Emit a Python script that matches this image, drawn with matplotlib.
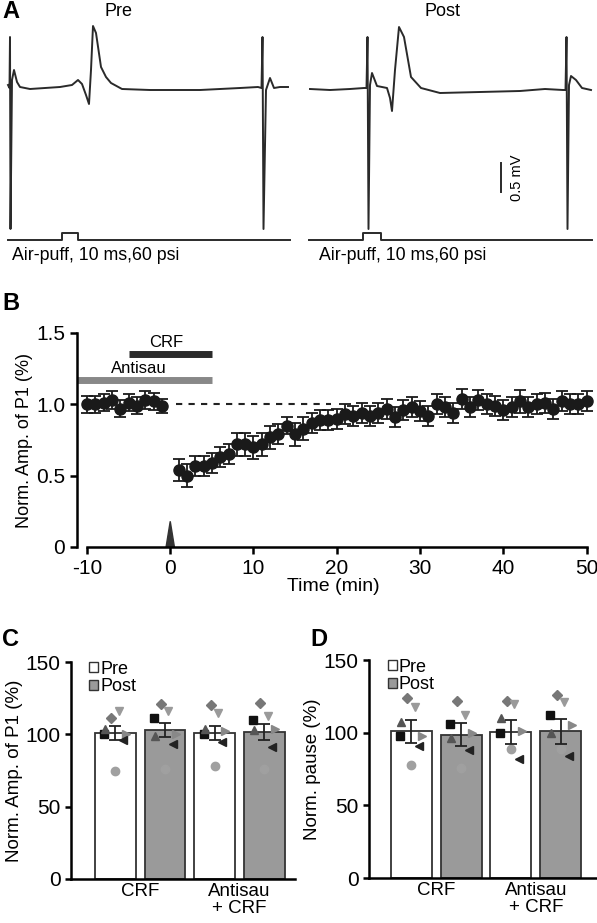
import matplotlib
matplotlib.use("Agg")
import matplotlib.pyplot as plt
from matplotlib.patches import Patch
import numpy as np

W, H = 597, 923
# ---- Panel A traces (x px, y px) ----
pre_x = [8, 9.5, 10, 10.5, 12, 14, 17, 20, 30, 45, 60, 72, 78, 82, 86, 89, 91, 93, 96, 101, 106, 111, 122, 150, 200, 240, 258, 261.5, 262.5, 263.5, 266, 270, 274, 280, 288]
pre_y = [85, 88, 37, 229, 80, 70, 82, 87, 89, 88, 87, 85, 80, 84, 95, 104, 70, 26, 33, 67, 77, 83, 89, 90, 90, 88, 87, 88, 37, 229, 90, 78, 88, 87, 87]
post_x = [310, 330, 350, 364, 366.5, 367.5, 368.5, 370, 372, 377, 387, 390, 392, 395, 399, 404, 411, 421, 440, 480, 520, 545, 563, 565.5, 566.5, 567.5, 569, 571, 576, 582, 591]
post_y = [89, 90, 89, 88, 88, 37, 229, 85, 73, 86, 88, 98, 111, 70, 27, 37, 77, 88, 93, 92, 91, 89, 90, 90, 37, 229, 85, 76, 80, 88, 90]
stim_pre_x = [8, 62, 62, 78, 78, 290]
stim_pre_y = [240, 240, 233, 233, 240, 240]
stim_post_x = [309, 363, 363, 381, 381, 592]
stim_post_y = [240, 240, 233, 233, 240, 240]

# ---- Panel B ----
t_pre = [-10, -9, -8, -7, -6, -5, -4, -3, -2, -1]
amp_pre = [1.00, 1.00, 1.01, 1.03, 0.97, 1.01, 0.99, 1.03, 1.02, 0.99]
err_pre = [0.06, 0.06, 0.06, 0.06, 0.06, 0.06, 0.06, 0.06, 0.06, 0.05]
t_post = list(range(1, 51))
amp_post = [0.54, 0.50, 0.57, 0.57, 0.59, 0.63, 0.65, 0.72, 0.72, 0.70,
            0.72, 0.77, 0.79, 0.85, 0.79, 0.83, 0.87, 0.89, 0.89, 0.90,
            0.93, 0.92, 0.94, 0.92, 0.94, 0.97, 0.91, 0.96, 0.98, 0.95,
            0.92, 1.00, 0.98, 0.94, 1.04, 0.98, 1.03, 1.00, 0.99, 0.96,
            0.98, 1.02, 0.98, 1.00, 1.01, 0.97, 1.02, 1.00, 1.00, 1.02]
err_post = [0.08, 0.08, 0.07, 0.07, 0.07, 0.07, 0.07, 0.08, 0.08, 0.08,
            0.08, 0.08, 0.07, 0.06, 0.08, 0.08, 0.07, 0.07, 0.07, 0.07,
            0.07, 0.07, 0.07, 0.07, 0.07, 0.07, 0.07, 0.07, 0.07, 0.07,
            0.07, 0.07, 0.07, 0.07, 0.07, 0.07, 0.07, 0.07, 0.07, 0.07,
            0.07, 0.08, 0.07, 0.07, 0.07, 0.07, 0.07, 0.07, 0.07, 0.07]

# ---- Panels C/D ----
groups = ["CRF", "Antisau\n+ CRF"]
c_means = [101, 103, 101, 101.5]
c_err = [5, 5, 5, 5.5]
d_means = [101, 98.5, 100.5, 101]
d_err = [8, 8, 8, 8.5]
markers = ["s", "^", "D", "v", ">", "<", "o"]
mcolors = ["#111111", "#555555", "#777777", "#9a9a9a", "#888888", "#222222", "#a0a0a0"]
offsets = [-0.22, -0.2, -0.08, 0.07, 0.22, 0.16, 0.0]
c_points = [[100.5, 104, 111, 116, 100, 96, 75],
            [111, 99, 121, 116, 100, 93, 76],
            [100, 104, 120, 115, 102, 95, 78],
            [110, 103, 122, 113, 104, 91, 76]]
d_points = [[98, 107, 124, 118, 98, 91, 78],
            [106, 96, 122, 112, 100, 88, 76],
            [100, 110, 122, 120, 101, 82, 89],
            [112, 100, 126, 121, 105, 84, 89]]

plt.rcParams['font.family'] = ['Liberation Sans', 'DejaVu Sans']
plt.rcParams['axes.unicode_minus'] = False
fig = plt.figure(figsize=(W/100, H/100), dpi=100)

def ax_px(l, t, r, b):
    return fig.add_axes([l/W, 1-b/H, (r-l)/W, (b-t)/H])

# Panel A
axA = ax_px(0, 0, W, 280)
axA.set_xlim(0, W); axA.set_ylim(280, 0); axA.axis('off')
tc = "#2a2a2a"
axA.plot(pre_x, pre_y, color=tc, lw=1.4)
axA.plot(post_x, post_y, color=tc, lw=1.4)
axA.plot(stim_pre_x, stim_pre_y, color=tc, lw=1.4)
axA.plot(stim_post_x, stim_post_y, color=tc, lw=1.4)
axA.plot([501, 501], [163, 192], color=tc, lw=1.4)
axA.text(517, 178, "0.5 mV", rotation=90, ha='center', va='center', fontsize=10.5)
axA.text(12, 255, "Air-puff, 10 ms,60 psi", fontsize=12.8, va='center')
axA.text(319, 255, "Air-puff, 10 ms,60 psi", fontsize=12.8, va='center')
axA.text(119, 11, "Pre", fontsize=13, ha='center', va='center')
axA.text(443, 11, "Post", fontsize=13, ha='center', va='center')
fig.text(2/W, 1-11/H, "A", fontsize=17, fontweight='bold', va='center')
fig.text(2/W, 1-303/H, "B", fontsize=17, fontweight='bold', va='center')
fig.text(2/W, 1-640/H, "C", fontsize=17, fontweight='bold', va='center')
fig.text(310/W, 1-640/H, "D", fontsize=17, fontweight='bold', va='center')

# Panel B
axB = ax_px(77, 333, 589, 547)
axB.set_xlim(-11.2, 50.3); axB.set_ylim(0, 1.5)
for s in ['top', 'right']:
    axB.spines[s].set_visible(False)
axB.spines['bottom'].set_bounds(-10, 50)
for s in ['left', 'bottom']:
    axB.spines[s].set_linewidth(1.8)
axB.tick_params(width=1.8, length=5, labelsize=15)
axB.set_xticks([-10, 0, 10, 20, 30, 40, 50])
axB.set_yticks([0, 0.5, 1.0, 1.5]); axB.set_yticklabels(["0", "0.5", "1.0", "1.5"])
axB.set_xlabel("Time (min)", fontsize=14, labelpad=0)
axB.set_ylabel("Norm. Amp. of P1 (%)", fontsize=13, labelpad=2)
axB.plot([0.7, 19.3], [1.0, 1.0], ls=(0, (3, 3)), color='#222222', lw=1.5)
kw = dict(fmt='o', color='#1a1a1a', ms=8, capsize=4, elinewidth=1.3, capthick=1.3, clip_on=False)
axB.errorbar(t_pre, amp_pre, yerr=err_pre, **kw)
axB.errorbar(t_post, amp_post, yerr=err_post, **kw)
axB.plot([-5, 5], [1.35, 1.35], color='#2a2a2a', lw=5, solid_capstyle='butt')
axB.plot([-11.2, 5], [1.17, 1.17], color='#888888', lw=5, solid_capstyle='butt', clip_on=False)
axB.text(-0.5, 1.38, "CRF", fontsize=12, ha='center', va='bottom')
axB.text(-3.8, 1.2, "Antisau", fontsize=12, ha='center', va='bottom')
axB.fill([-0.5, 0.5, 0], [0, 0, 0.18], color='#333333', clip_on=False)

def bar_panel(box, xlim, means, errs, pts, ylabel):
    ax = ax_px(*box)
    ax.set_xlim(*xlim); ax.set_ylim(0, 150)
    xs = [1, 2, 3, 4]
    cols = ['white', '#9a9a9a', 'white', '#9a9a9a']
    ax.bar(xs, means, width=0.82, color=cols, edgecolor='#333333', linewidth=1.3, zorder=1)
    for i, x in enumerate(xs):
        for j in range(7):
            ax.plot(x + offsets[j], pts[i][j], marker=markers[j], color=mcolors[j],
                    ms=6 if markers[j] != 'D' else 5, ls='none', zorder=2)
    ax.errorbar(xs, means, yerr=errs, fmt='none', ecolor='#222222', capsize=4, elinewidth=1.3, capthick=1.3, zorder=3)
    for s in ['top', 'right']:
        ax.spines[s].set_visible(False)
    for s in ['left', 'bottom']:
        ax.spines[s].set_linewidth(1.8)
    ax.set_yticks([0, 50, 100, 150])
    ax.tick_params(axis='y', width=1.8, length=4, labelsize=15)
    ax.set_xticks([1.5, 3.5])
    ax.set_xticklabels(groups, fontsize=13.5, linespacing=0.95)
    ax.tick_params(axis='x', length=0, pad=3)
    ax.set_ylabel(ylabel, fontsize=13.5, labelpad=2)
    ax.legend(handles=[Patch(facecolor='white', edgecolor='#333333', label='Pre'),
                       Patch(facecolor='#9a9a9a', edgecolor='#333333', label='Post')],
              loc='upper left', bbox_to_anchor=(0.05, 1.04), frameon=False, fontsize=13,
              handlelength=0.5, handleheight=0.5, handletextpad=0.1, labelspacing=0.05, borderaxespad=0)
    return ax

bar_panel((71, 662, 295, 879), (0.11, 4.62), c_means, c_err, c_points, "Norm. Amp. of P1 (%)")
bar_panel((369, 660, 597, 878), (0.15, 4.73), d_means, d_err, d_points, "Norm. pause (%)")

fig.savefig("out.png", dpi=100)
